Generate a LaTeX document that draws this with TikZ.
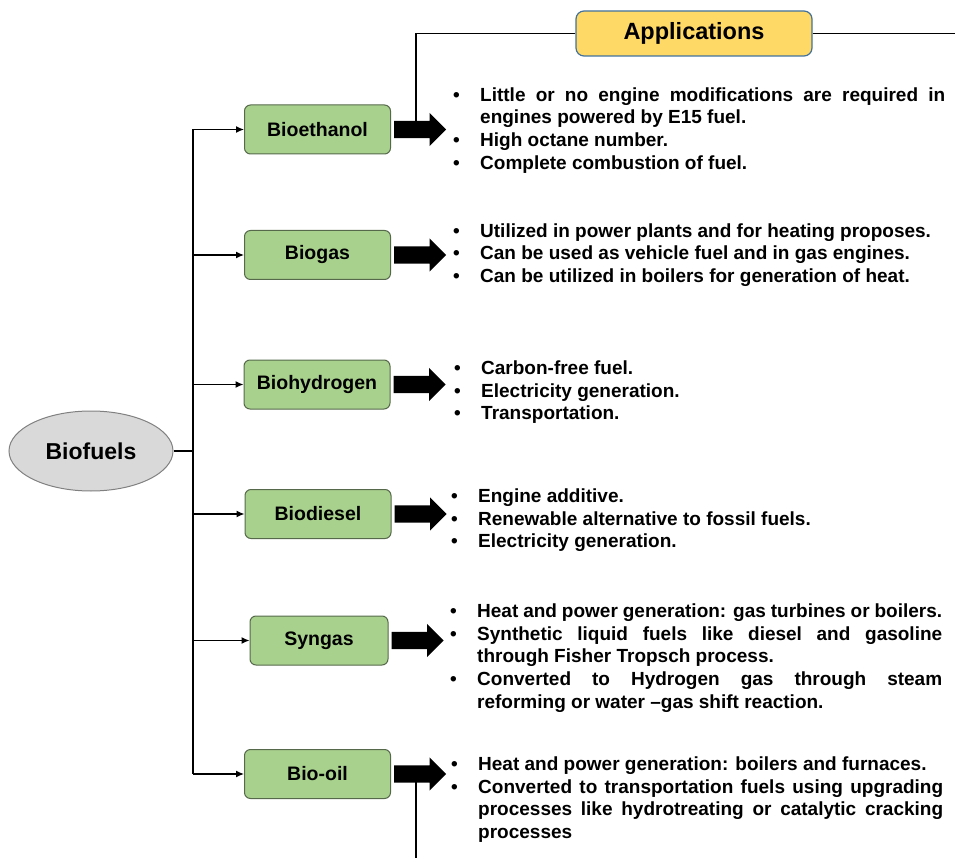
\documentclass[tikz,border=0pt]{standalone}
\usepackage{fontspec}
\setmainfont{Liberation Sans}
\usetikzlibrary{positioning, arrows.meta, shapes.geometric, shapes.arrows}

\definecolor{fuelgreen}{HTML}{A9D18E}
\definecolor{fuelborder}{HTML}{56694A}
\definecolor{appyellow}{HTML}{FFD966}
\definecolor{appborder}{HTML}{41719C}
\definecolor{ovalgray}{HTML}{D9D9D9}

% one bullet point of an application list
\newcommand{\bitem}[1]{\noindent\hangindent=27pt\hangafter=1\rule{0pt}{15pt}\makebox[27pt][l]{\textbullet}#1\par}

\tikzset{
    fuel/.style={draw=fuelborder, fill=fuelgreen, line width=1pt, rounded corners=6pt,
        minimum width=146pt, minimum height=49pt, inner sep=0pt,
        font=\bfseries\fontsize{19.5}{22}\selectfont},
    oval/.style={ellipse, draw=gray, fill=ovalgray, line width=1pt,
        minimum width=164pt, minimum height=80pt, inner sep=0pt,
        font=\bfseries\fontsize{23}{26}\selectfont},
    apphead/.style={draw=appborder, fill=appyellow, line width=1.2pt, rounded corners=8pt,
        minimum width=236pt, minimum height=45pt, inner sep=0pt,
        font=\bfseries\fontsize{23.5}{26}\selectfont},
    fatarrow/.style={single arrow, fill=black, draw=none, minimum height=52pt,
        inner sep=8.5pt, single arrow head extend=8pt},
    uses/.style={anchor=north west, text width=492pt, align=justify, inner sep=0pt,
        font=\bfseries\fontsize{19}{22.8}\selectfont,
        execute at begin node={\tolerance=9999\emergencystretch=30pt\hyphenpenalty=10000}},
    branch/.style={line width=1.3pt, -{Latex[length=8pt,width=7pt]}},
    link/.style={line width=1.3pt}
}

\begin{document}
\begin{tikzpicture}[x=1pt, y=-1pt] % y runs downwards
    \useasboundingbox (0,0) rectangle (955,858);

    % Root
    \node[oval] (biofuels) at (91,451) {Biofuels};
    \coordinate (hub) at (193,451);

    % Biofuel types
    \node[fuel] (bioethanol) at (317.5,129.5) {Bioethanol};
    \node[fuel] (biogas) at (317.5,255) {Biogas};
    \node[fuel] (biohydrogen) at (317,384.5) {Biohydrogen};
    \node[fuel] (biodiesel) at (318,514) {Biodiesel};
    \node[fuel, minimum width=138pt] (syngas) at (319,640.5) {Syngas};
    \node[fuel] (biooil) at (317.5,774) {Bio-oil};

    % Tree lines
    \draw[link] (biofuels.east) -- (hub);
    \draw[link] (hub |- bioethanol.west) -- (hub |- biooil.west);
    \foreach \f in {bioethanol,biogas,biohydrogen,biodiesel,syngas,biooil} {
        \draw[branch] (hub |- \f.west) -- (\f.west);
    }

    % Header
    \node[apphead] (apps) at (694,33.5) {Applications};
    \coordinate (rightend) at (955,33.5);
    \coordinate (bottomend) at (418,858);

    % Block arrows
    \node[fatarrow, right=3pt of bioethanol] (arr1) {};
    \node[fatarrow, right=3pt of biogas] (arr2) {};
    \node[fatarrow, right=3pt of biohydrogen] (arr3) {};
    \node[fatarrow, right=3pt of biodiesel] (arr4) {};
    \node[fatarrow, right=3pt of syngas] (arr5) {};
    \node[fatarrow, right=3pt of biooil] (arr6) {};

    \draw[link] (apps.west) -| (arr1.center);
    \draw[link] (apps.east) -- (rightend);
    \draw[link] (arr6.center) -- (arr6.center |- bottomend);

    % Application lists
    \node[uses] (app1) at (453,86) {%
        \bitem{Little or no engine modifications are required in engines powered by E15 fuel.}%
        \bitem{High octane number.}%
        \bitem{Complete combustion of fuel.}};
    \node[uses] (app2) at (453,222) {%
        \bitem{Utilized in power plants and for heating proposes.}%
        \bitem{Can be used as vehicle fuel and in gas engines.}%
        \bitem{Can be utilized in boilers for generation of heat.}};
    \node[uses] (app3) at (454,359) {%
        \bitem{Carbon-free fuel.}%
        \bitem{Electricity generation.}%
        \bitem{Transportation.}};
    \node[uses] (app4) at (451,487) {%
        \bitem{Engine additive.}%
        \bitem{Renewable alternative to fossil fuels.}%
        \bitem{Electricity generation.}};
    \node[uses] (app5) at (450,602) {%
        \bitem{Heat and power generation: gas turbines or boilers.}%
        \bitem{Synthetic liquid fuels like diesel and gasoline through Fisher Tropsch process.}%
        \bitem{Converted to Hydrogen gas through steam reforming or water --gas shift reaction.}};
    \node[uses] (app6) at (451,755) {%
        \bitem{Heat and power generation: boilers and furnaces.}%
        \bitem{Converted to transportation fuels using upgrading processes like hydrotreating or catalytic cracking processes}};
\end{tikzpicture}
\end{document}
